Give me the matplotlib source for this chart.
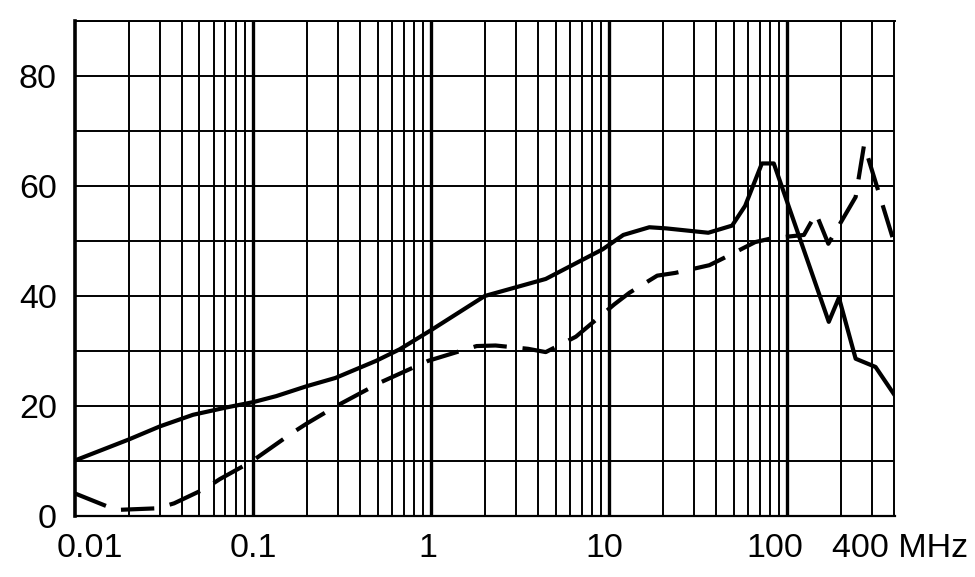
import numpy as np
import matplotlib
matplotlib.use('Agg')
import matplotlib.pyplot as plt
import matplotlib.transforms as mtransforms

# solid curve (MHz, dB)
solid_f = [0.01, 0.02, 0.03, 0.046, 0.07, 0.1, 0.135, 0.2, 0.29, 0.49, 0.665,
           1.0, 2.0, 4.4, 9.2, 12, 16.8, 20.8, 36, 49, 58, 72, 84, 171, 195,
           242, 313, 400]
solid_db = [10.1, 13.9, 16.3, 18.4, 19.7, 20.7, 21.8, 23.6, 25.1, 28.2, 30.3,
            33.8, 40.0, 43.1, 48.5, 51.1, 52.5, 52.3, 51.5, 52.8, 56.4, 64.1,
            64.1, 35.3, 39.7, 28.6, 27.1, 22.0]

# dashed curve
dash_f = [0.01, 0.017, 0.029, 0.036, 0.054, 0.065, 0.098, 0.164, 0.2, 0.29,
          0.52, 0.96, 1.8, 2.3, 3.5, 4.4, 6.5, 10.7, 13, 18.6, 23.5, 36.5,
          44.6, 66, 82, 124, 145, 170, 242, 270, 400]
dash_db = [4.1, 1.1, 1.4, 2.3, 5.0, 6.7, 9.9, 15.0, 16.8, 19.9, 24.3, 28.2,
           30.9, 31.0, 30.4, 29.8, 32.6, 38.5, 40.6, 43.7, 44.2, 45.6, 47.0,
           49.8, 50.5, 51.1, 55.0, 49.5, 58.0, 67.5, 49.5]

x_ticks = [0.01, 0.1, 1, 10, 100, 400]
x_labels = ['0.01', '0.1', '1', '10', '100', '400 MHz']
y_ticks = [0, 20, 40, 60, 80]

decades = [0.01, 0.1, 1, 10, 100]
minor_lines = [m * d for d in decades for m in range(2, 10) if m * d <= 400]

plt.rcParams['font.family'] = ['Liberation Sans', 'DejaVu Sans']

fig = plt.figure(figsize=(9.75, 5.77), dpi=100)
ax = fig.add_axes([75 / 975, 1 - 516 / 577, (894.5 - 75) / 975, (516 - 21) / 577])
ax.set_xscale('log')
ax.set_xlim(0.01, 400)
ax.set_ylim(0, 90)

# grid drawn by hand: heavy lines at decades, thin ones elsewhere
for v in minor_lines:
    ax.axvline(v, color='black', lw=1.4, zorder=1)
for v in decades[1:]:
    ax.axvline(v, color='black', lw=2.4, zorder=1)
for h in range(10, 91, 10):
    ax.axhline(h, color='black', lw=1.4, zorder=1)

ax.plot(solid_f, solid_db, color='black', lw=3.0, zorder=3)
ax.plot(dash_f, dash_db, color='black', lw=3.0, ls=(0, (8, 3.8)), zorder=3)

ax.set_xticks(x_ticks)
ax.set_xticklabels(x_labels)
ax.xaxis.set_minor_locator(matplotlib.ticker.NullLocator())
ax.set_yticks(y_ticks)
ax.tick_params(length=0, labelsize=24.5, colors='black')
ax.tick_params(axis='y', pad=13)
ax.tick_params(axis='x', pad=12)

# nudge the x labels a bit, like the original
offsets = [15, 0, -3, -5, -12, 6]
for lab, dx in zip(ax.get_xticklabels(), offsets):
    lab.set_transform(lab.get_transform() +
                      mtransforms.ScaledTranslation(dx / 100, 0, fig.dpi_scale_trans))

ax.spines['left'].set_linewidth(2.6)
ax.spines['bottom'].set_linewidth(1.6)
ax.spines['top'].set_linewidth(1.4)
ax.spines['right'].set_linewidth(1.4)

fig.savefig('out.png', dpi=100)
